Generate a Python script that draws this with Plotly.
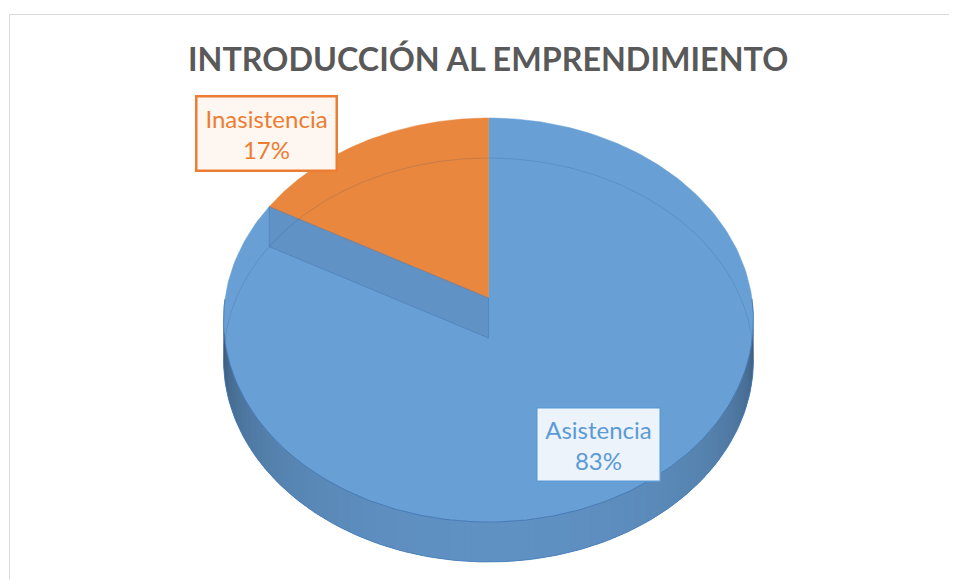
import numpy as np
import plotly.graph_objects as go

# ---- data ----
categories = ["Asistencia", "Inasistencia"]
values = [83, 17]
title_text = "INTRODUCCIÓN AL EMPRENDIMIENTO"
header_text = "Expositor: Sylvio Campos"

# ---- styles ----
top_colors = ["#68A0D6", "#E9873E"]
wall_rgb = [(104, 158, 212), (233, 135, 62)]
label_colors = ["#5B9BD5", "#ED7D31"]
label_bg = ["#EDF3FA", "#FDF6F1"]
label_border_w = [1.5, 2.5]
label_width = [110, 126]
label_pos = [(598, 444), (266.5, 133.5)]

W, H = 957, 587
OFF = 8                    # browser default body margin
CX, CY = 488.5, 298        # projected pie centre
A, B, K = 263.4, 199.6, 0.1089   # perspective ellipse params
D = 40                     # pie thickness (px)


def proj(t_deg, dz=0.0):
    t = np.radians(t_deg)
    u, v = np.sin(t), np.cos(t)
    w = 1 + K * v
    return CX + A * u / w, CY - B * v / w + dz


total = sum(values)
angles = np.concatenate([[0], np.cumsum([v / total * 360 for v in values])])

fig = go.Figure()


def poly(xs, ys, fill, line=None, lw=0.0, name=""):
    fig.add_trace(go.Scatter(
        x=list(xs), y=list(ys), mode="lines", fill="toself", fillcolor=fill,
        line=dict(color=line or fill, width=lw), hoverinfo="skip",
        showlegend=False, name=name))


# side wall (front, visible part)
t_r = np.degrees(np.arccos(-K))
t_l = 360 - t_r
ts = np.linspace(t_r, t_l, 121)
step = ts[1] - ts[0]
for a0, a1 in zip(ts[:-1], ts[1:]):
    m = (a0 + a1) / 2
    idx = int(np.searchsorted(angles, m, side="right") - 1)
    idx = min(max(idx, 0), len(values) - 1)
    c = max(-np.cos(np.radians(m)), 0)
    f = 0.22 + 0.70 * c ** 0.35
    r, g, b = [int(min(255, ch * f)) for ch in wall_rgb[idx]]
    col = f"rgb({r},{g},{b})"
    e0, e1 = a0 - step * 0.6, a1 + step * 0.6
    xx = np.linspace(e0, e1, 4)
    x0, y0 = proj(xx)
    poly(np.concatenate([x0, x0[::-1], x0[:1]]),
         np.concatenate([y0, y0[::-1] + D, y0[:1]]), col, col, 0)

# wall bottom outline
tb = np.linspace(t_r, t_l, 200)
xb, yb = proj(tb, D)
fig.add_trace(go.Scatter(x=xb, y=yb, mode="lines",
                         line=dict(color="rgba(70,125,190,0.8)", width=1),
                         hoverinfo="skip", showlegend=False))

# top faces
for i, v in enumerate(values):
    tt = np.linspace(angles[i], angles[i + 1], 240)
    xs, ys = proj(tt)
    poly(np.concatenate([[CX], xs, [CX]]), np.concatenate([[CY], ys, [CY]]),
         top_colors[i], top_colors[i], 0.5, categories[i])

# radial cut face seen through the translucent pie
for a in angles[1:-1]:
    xe, ye = proj(a)
    poly([CX, xe, xe, CX, CX], [CY, ye, ye + D, CY + D, CY],
         "rgba(80,115,160,0.30)", "rgba(70,120,180,0.55)", 1)

# front top edge line
tf = np.linspace(t_r - 6, t_l + 6, 240)
xf, yf = proj(tf)
fig.add_trace(go.Scatter(x=xf, y=yf, mode="lines",
                         line=dict(color="rgba(50,100,165,0.65)", width=1),
                         hoverinfo="skip", showlegend=False))

# hidden back edge of bottom face (seen through)
th = np.linspace(t_l - 360, t_r, 240)
xh, yh = proj(th, D)
fig.add_trace(go.Scatter(x=xh, y=yh, mode="lines",
                         line=dict(color="rgba(40,70,110,0.18)", width=1),
                         hoverinfo="skip", showlegend=False))

# labels
annotations = []
for i, (cat, v) in enumerate(zip(categories, values)):
    pct = f"{v / total * 100:.0f}%"
    x, y = label_pos[i]
    annotations.append(dict(
        x=x, y=y, xref="x", yref="y", showarrow=False,
        text=f"{cat}<br>{pct}",
        font=dict(family="Lato, Carlito, sans-serif", size=24, color=label_colors[i]),
        bgcolor=label_bg[i], bordercolor=label_colors[i],
        borderwidth=label_border_w[i], borderpad=6, width=label_width[i],
        align="center"))

annotations.append(dict(
    x=488, y=58, xref="x", yref="y", showarrow=False, text=f"<b>{title_text}</b>",
    font=dict(family="Lato, Open Sans, sans-serif", size=32.3, color="#595959")))
annotations.append(dict(
    x=-9, y=5, xref="x", yref="y", xanchor="left", yanchor="bottom", showarrow=False,
    text=header_text,
    font=dict(family="Lato, sans-serif", size=22, color="#000000")))

PW = W - 2 * OFF           # keep the page from overflowing
PH = H - 2 * OFF
fig.update_layout(
    width=PW, height=PH, margin=dict(l=0, r=0, t=0, b=0),
    paper_bgcolor="white", plot_bgcolor="white", showlegend=False,
    xaxis=dict(range=[OFF, OFF + PW], visible=False, fixedrange=True),
    yaxis=dict(range=[OFF + PH, OFF], visible=False, fixedrange=True),
    annotations=annotations,
    shapes=[dict(type="rect", xref="x", yref="y", x0=9.5, y0=14.5, x1=W + 5, y1=H + 5,
                 line=dict(color="#D9D9D9", width=1), layer="below")],
)

fig.write_html("out.html")
